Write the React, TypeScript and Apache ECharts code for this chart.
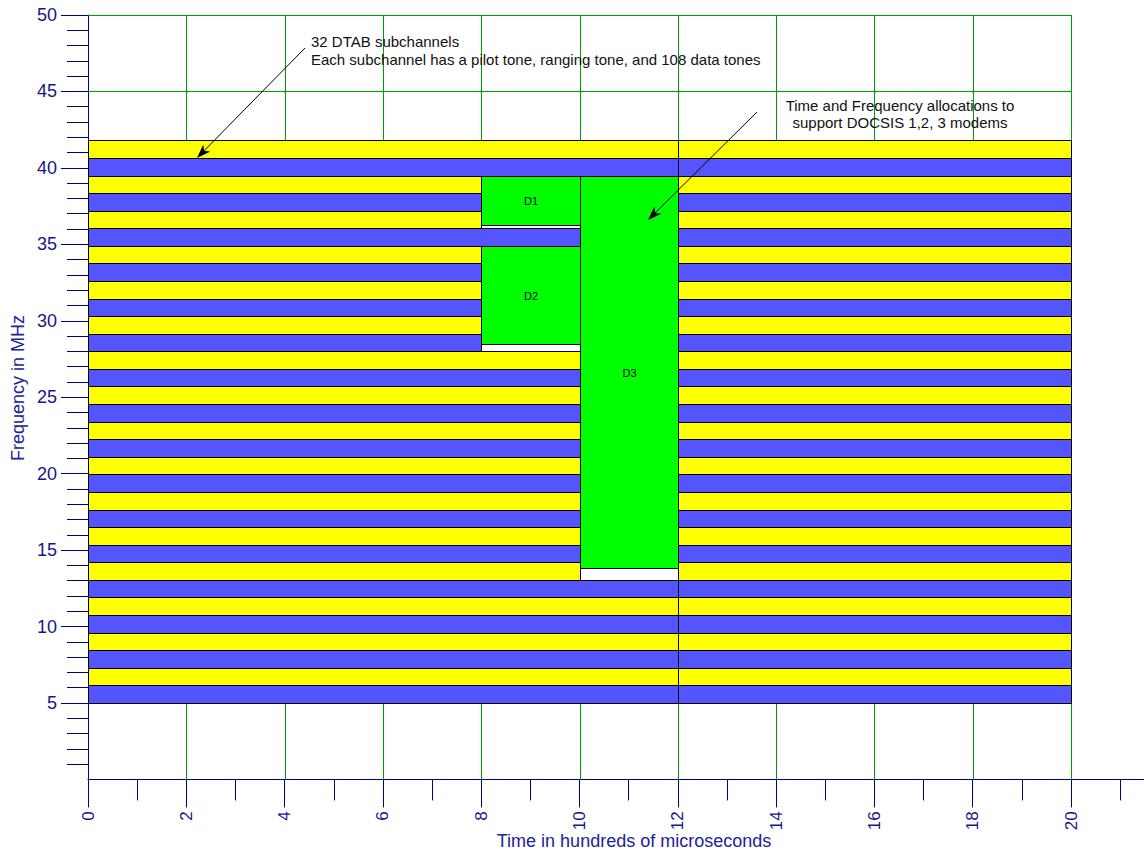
import React, { useEffect, useRef } from "react";
import * as echarts from "echarts";

// Lower/upper edges (MHz) of the 32 DTAB subchannels, bottom to top
const subchannelEdges = [
  5.0, 6.15, 7.3, 8.45, 9.6, 10.75, 11.9, 13.05, 14.2, 15.35, 16.5, 17.65,
  18.8, 19.95, 21.1, 22.25, 23.4, 24.55, 25.7, 26.85, 28.0, 29.15, 30.3,
  31.45, 32.6, 33.75, 34.9, 36.05, 37.2, 38.35, 39.5, 40.65, 41.8,
];

// Idle subchannel blocks: [time start, time end, first subchannel, last subchannel]
const idleBlocks: [number, number, number, number][] = [
  [0, 12, 0, 6],
  [0, 10, 7, 19],
  [0, 8, 20, 25],
  [0, 10, 26, 26],
  [0, 8, 27, 29],
  [0, 12, 30, 31],
  [12, 20, 0, 31],
];

// Modem allocations
const allocNames = ["D1", "D2", "D3"];
const allocTimeStart = [8, 8, 10];
const allocTimeEnd = [10, 10, 12];
const allocFirstChannel = [27, 20, 7];
const allocLastChannel = [29, 25, 29];
const allocBurstLow = [36.26, 28.48, 13.83];

// Grid lines
const timeGridLines = [2, 4, 6, 8, 10, 12, 14, 16, 18, 20];
const freqGridLines = [5, 10, 15, 20, 25, 30, 35, 40, 45, 50];
const yTickValues = [5, 10, 15, 20, 25, 30, 35, 40, 45, 50];

const BLUE = "#5555ff";
const YELLOW = "#ffff00";
const GREEN = "#00ff00";
const NAVY = "#000080";
const LABEL = "#16168a";
const TITLE = "#22229a";
const GRIDGREEN = "#00a000";
const FONT = "'Liberation Sans', Arial, sans-serif";

const crisp = (v: number) => Math.round(v) + 0.5;

function arrow(x1: number, y1: number, x2: number, y2: number) {
  const dx = x2 - x1;
  const dy = y2 - y1;
  const len = Math.hypot(dx, dy);
  const ux = dx / len;
  const uy = dy / len;
  const nx = -uy;
  const ny = ux;
  const L = 14;
  const W = 5;
  const bx = x2 - ux * L;
  const by = y2 - uy * L;
  return [
    {
      type: "line",
      z: 100,
      shape: { x1, y1, x2: x2 - ux * 8, y2: y2 - uy * 8 },
      style: { stroke: "#000", lineWidth: 1 },
    },
    {
      type: "polygon",
      z: 100,
      shape: {
        points: [
          [x2, y2],
          [bx + nx * W, by + ny * W],
          [x2 - ux * L * 0.72, y2 - uy * L * 0.72],
          [bx - nx * W, by - ny * W],
        ],
      },
      style: { fill: "#000" },
    },
  ];
}

export default function App() {
  const ref = useRef<HTMLDivElement>(null);

  useEffect(() => {
    if (!ref.current) return;
    const chart = echarts.init(ref.current, null, { renderer: "svg" });

    const stripeData: number[][] = [];
    idleBlocks.forEach(([t0, t1, c0, c1]) => {
      for (let k = c0; k <= c1; k++) {
        stripeData.push([t0, t1, subchannelEdges[k], subchannelEdges[k + 1], k % 2]);
      }
    });

    const gridData: number[][] = [
      ...timeGridLines.map((v) => [0, v]),
      ...freqGridLines.map((v) => [1, v]),
    ];

    const allocData = allocNames.map((_, i) => [
      allocTimeStart[i],
      allocTimeEnd[i],
      subchannelEdges[allocFirstChannel[i]],
      subchannelEdges[allocLastChannel[i] + 1],
      allocBurstLow[i],
      i,
    ]);

    const option: any = {
      animation: false,
      backgroundColor: "#ffffff",
      grid: { left: 88, top: 15, width: 1066.6, height: 764.4, containLabel: false },
      xAxis: {
        type: "value",
        min: 0,
        max: 21.7,
        interval: 2,
        axisLine: { show: true, onZero: false, lineStyle: { color: NAVY, width: 1 } },
        axisTick: { show: true, length: 28, lineStyle: { color: NAVY, width: 1 } },
        minorTick: { show: true, splitNumber: 2, length: 21, lineStyle: { color: NAVY, width: 1 } },
        axisLabel: {
          rotate: 90,
          margin: 32,
          fontSize: 17,
          color: LABEL,
          fontFamily: FONT,
          formatter: (v: number) => (v % 2 === 0 && v <= 20 ? String(v) : ""),
        },
        splitLine: { show: false },
      },
      yAxis: {
        type: "value",
        min: 0,
        max: 50,
        interval: 5,
        axisLine: { show: true, onZero: false, lineStyle: { color: NAVY, width: 1 } },
        axisTick: { show: true, length: 27, customValues: yTickValues, lineStyle: { color: NAVY, width: 1 } },
        minorTick: { show: true, splitNumber: 5, length: 21, lineStyle: { color: NAVY, width: 1 } },
        axisLabel: {
          margin: 31,
          fontSize: 18,
          color: LABEL,
          fontFamily: FONT,
          formatter: (v: number) => (v === 0 ? "" : String(v)),
        },
        splitLine: { show: false },
      },
      series: [
        {
          name: "grid lines",
          type: "custom",
          z: 1,
          data: gridData,
          renderItem: (_p: any, api: any) => {
            const dir = api.value(0);
            const v = api.value(1);
            if (dir === 0) {
              const a = api.coord([v, 0]);
              const b = api.coord([v, 50]);
              return {
                type: "line",
                shape: { x1: crisp(a[0]), y1: a[1], x2: crisp(b[0]), y2: b[1] },
                style: { stroke: GRIDGREEN, lineWidth: 1 },
              };
            }
            const a = api.coord([0, v]);
            const b = api.coord([20, v]);
            return {
              type: "line",
              shape: { x1: a[0], y1: crisp(a[1]), x2: b[0], y2: crisp(b[1]) },
              style: { stroke: GRIDGREEN, lineWidth: 1 },
            };
          },
        },
        {
          name: "subchannels",
          type: "custom",
          z: 2,
          data: stripeData,
          renderItem: (_p: any, api: any) => {
            const p0 = api.coord([api.value(0), api.value(3)]);
            const p1 = api.coord([api.value(1), api.value(2)]);
            const x0 = crisp(p0[0]);
            const y0 = crisp(p0[1]);
            const x1 = crisp(p1[0]);
            const y1 = crisp(p1[1]);
            return {
              type: "rect",
              shape: { x: x0, y: y0, width: x1 - x0, height: y1 - y0 },
              style: { fill: api.value(4) ? YELLOW : BLUE, stroke: "#000", lineWidth: 1 },
            };
          },
        },
        {
          name: "allocations",
          type: "custom",
          z: 3,
          data: allocData,
          renderItem: (_p: any, api: any) => {
            const t0 = api.value(0);
            const t1 = api.value(1);
            const fLow = api.value(2);
            const fHigh = api.value(3);
            const burstLow = api.value(4);
            const idx = api.value(5);
            const s0 = api.coord([t0, fHigh]);
            const s1 = api.coord([t1, fLow]);
            const b1 = api.coord([t1, burstLow]);
            const x0 = crisp(s0[0]);
            const x1 = crisp(s1[0]);
            const yTop = crisp(s0[1]);
            const yBot = crisp(s1[1]);
            const yBurst = crisp(b1[1]);
            return {
              type: "group",
              children: [
                {
                  type: "rect",
                  shape: { x: x0, y: yTop, width: x1 - x0, height: yBot - yTop },
                  style: { fill: "#ffffff", stroke: "#000", lineWidth: 1 },
                },
                {
                  type: "rect",
                  shape: { x: x0, y: yTop, width: x1 - x0, height: yBurst - yTop },
                  style: { fill: GREEN, stroke: "#000", lineWidth: 1 },
                },
                {
                  type: "text",
                  x: (x0 + x1) / 2,
                  y: (yTop + yBurst) / 2,
                  style: {
                    text: allocNames[idx],
                    align: "center",
                    verticalAlign: "middle",
                    fill: "#000",
                    font: `11px ${FONT}`,
                  },
                },
              ],
            };
          },
        },
      ],
      graphic: [
        {
          type: "text",
          z: 100,
          x: 311,
          y: 41,
          style: {
            text: "32 DTAB subchannels",
            align: "left",
            verticalAlign: "middle",
            fill: "#111",
            font: `15px ${FONT}`,
          },
        },
        {
          type: "text",
          z: 100,
          x: 311,
          y: 59,
          style: {
            text: "Each subchannel has a pilot tone, ranging tone, and 108 data tones",
            align: "left",
            verticalAlign: "middle",
            fill: "#111",
            font: `15px ${FONT}`,
          },
        },
        {
          type: "text",
          z: 100,
          x: 900,
          y: 105,
          style: {
            text: "Time and Frequency allocations to",
            align: "center",
            verticalAlign: "middle",
            fill: "#111",
            font: `15px ${FONT}`,
          },
        },
        {
          type: "text",
          z: 100,
          x: 900,
          y: 122,
          style: {
            text: "support DOCSIS 1,2, 3 modems",
            align: "center",
            verticalAlign: "middle",
            fill: "#111",
            font: `15px ${FONT}`,
          },
        },
        ...arrow(305, 48, 197, 158),
        ...arrow(757, 112, 648, 220),
        {
          type: "text",
          z: 100,
          x: 18,
          y: 388,
          rotation: Math.PI / 2,
          style: {
            text: "Frequency in MHz",
            align: "center",
            verticalAlign: "middle",
            fill: TITLE,
            font: `18px ${FONT}`,
          },
        },
        {
          type: "text",
          z: 100,
          x: 634,
          y: 841,
          style: {
            text: "Time in hundreds of microseconds",
            align: "center",
            verticalAlign: "middle",
            fill: TITLE,
            font: `18px ${FONT}`,
          },
        },
      ],
    };

    chart.setOption(option);
    return () => chart.dispose();
  }, []);

  return (
    <div
      style={{
        position: "absolute",
        left: 0,
        top: 0,
        width: 1144,
        height: 850,
        overflow: "hidden",
        background: "#fff",
      }}
    >
      <div ref={ref} style={{ width: 1170, height: 850 }} />
    </div>
  );
}
